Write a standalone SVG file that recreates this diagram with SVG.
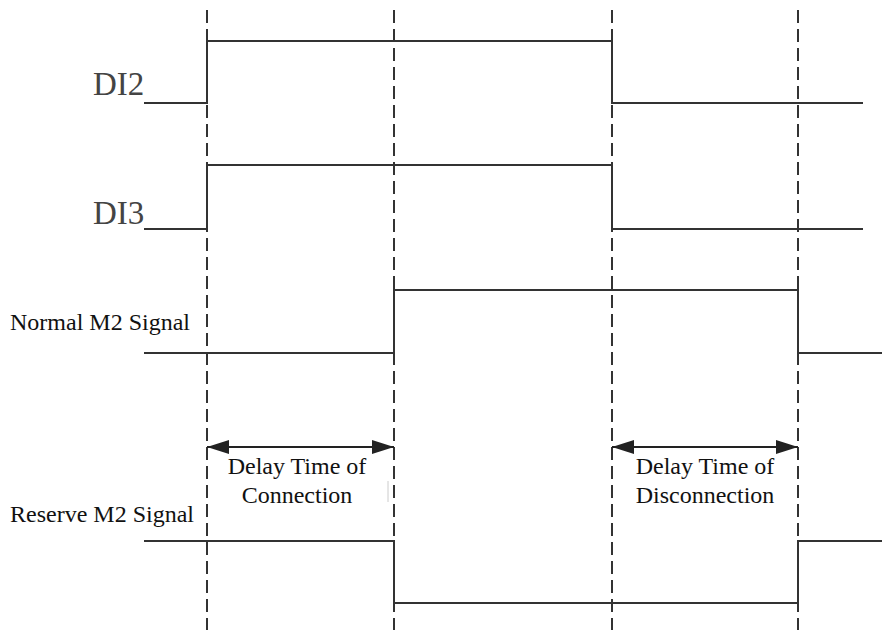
<svg xmlns="http://www.w3.org/2000/svg" width="882" height="630" viewBox="0 0 882 630">
<style>
.sig{fill:none;stroke:#333;stroke-width:2}
.dash{fill:none;stroke:#333;stroke-width:2;stroke-dasharray:13 6}
.lbl{font-family:"Liberation Serif",serif;font-size:24px;fill:#111}
.di{font-family:"Liberation Serif",serif;font-size:33px;fill:#444}
.arr{fill:none;stroke:#222;stroke-width:2}
</style>
<defs>
<marker id="ah" viewBox="0 0 22 14" refX="22" refY="7" markerWidth="22" markerHeight="14" markerUnits="userSpaceOnUse" orient="auto-start-reverse">
<path d="M0,0 L22,7 L0,14 Z" fill="#222"/>
</marker>
</defs>
<rect width="882" height="630" fill="#fff"/>
<g id="guides">
<line class="dash" x1="207" y1="10" x2="207" y2="630"/>
<line class="dash" x1="394" y1="10" x2="394" y2="630"/>
<line class="dash" x1="612" y1="10" x2="612" y2="630"/>
<line class="dash" x1="798" y1="10" x2="798" y2="630"/>
</g>
<g id="di2">
<text class="di" x="93" y="95">DI2</text>
<polyline class="sig" points="144,103 207,103 207,41 612,41 612,103 863,103"/>
</g>
<g id="di3">
<text class="di" x="93" y="224">DI3</text>
<polyline class="sig" points="144,229 207,229 207,165 612,165 612,229 863,229"/>
</g>
<g id="normal">
<text class="lbl" x="10" y="330">Normal M2 Signal</text>
<polyline class="sig" points="144,353 394,353 394,290 798,290 798,353 882,353"/>
</g>
<g id="reserve">
<text class="lbl" x="10" y="522">Reserve M2 Signal</text>
<polyline class="sig" points="144,541 394,541 394,603 798,603 798,541 882,541"/>
</g>
<g id="connectors">
<line class="arr" x1="207" y1="447" x2="394" y2="447" marker-start="url(#ah)" marker-end="url(#ah)"/>
<line class="arr" x1="612" y1="447" x2="798" y2="447" marker-start="url(#ah)" marker-end="url(#ah)"/>
</g>
<g id="conn-label">
<text class="lbl" x="297" y="474" text-anchor="middle">Delay Time of</text>
<text class="lbl" x="297" y="503" text-anchor="middle">Connection</text>
</g>
<g id="disc-label">
<text class="lbl" x="705" y="474" text-anchor="middle">Delay Time of</text>
<text class="lbl" x="705" y="503" text-anchor="middle">Disconnection</text>
</g>
<line x1="388" y1="481" x2="388" y2="502" stroke="#ccc" stroke-width="1"/>
</svg>
